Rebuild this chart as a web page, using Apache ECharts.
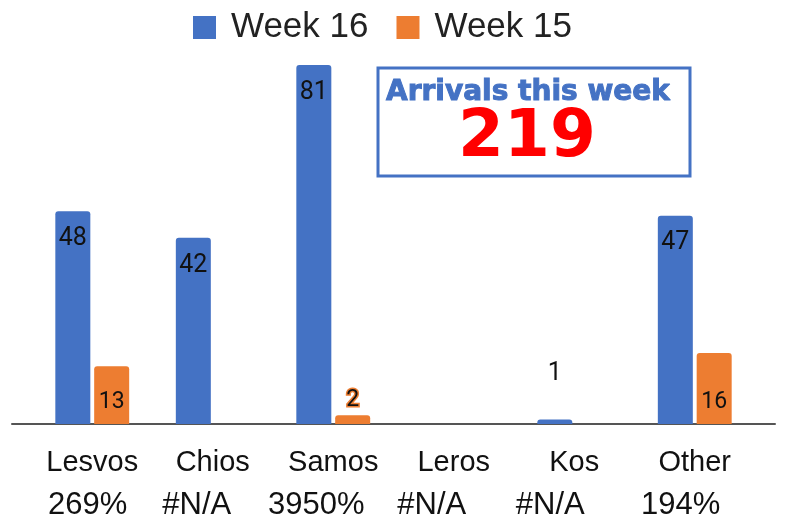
<!DOCTYPE html>
<html>
<head>
<meta charset="utf-8">
<script src="https://cdn.jsdelivr.net/npm/echarts@6/dist/echarts.min.js"></script>
<style>
  html, body { margin: 0; padding: 0; background: #fff; }
  #chart { width: 795px; height: 515px; }
</style>
</head>
<body>
<div id="chart"></div>
<script>
const categories = ["Lesvos", "Chios", "Samos", "Leros", "Kos", "Other"];
const changeLabels = ["269%", "#N/A", "3950%", "#N/A", "#N/A", "194%"];
const week16 = [48, 42, 81, 0, 1, 47];
const week15 = [13, 0, 2, 0, 0, 16];
const totalArrivals = 219;

// the second label line sits a little left of the name in the original
const changeShift = [9, 32, 34, 44, 48, 28];

const blue = "#4472C4";
const orange = "#ED7D31";

const rich = { n: { fontSize: 29, lineHeight: 43, color: "#111", fontFamily: "Liberation Sans" } };
changeShift.forEach(function(s, i) {
  rich["p" + i] = {
    fontSize: 31, lineHeight: 43, color: "#111", fontFamily: "Liberation Sans",
    padding: [0, s, 0, 0],
  };
});

function barItems(values, color) {
  return values.map(function(v) {
    if (v > 0 && v < 5) {
      return {
        value: v,
        label: {
          position: "top",
          distance: color === blue ? 33 : 3,
          textBorderColor: color === blue ? "#fff" : orange,
          textBorderWidth: 3,
        },
      };
    }
    return v;
  });
}

const chart = echarts.init(document.getElementById("chart"));

chart.setOption({
  animation: false,
  legend: {
    left: 188,
    top: 5,
    itemWidth: 23,
    itemHeight: 23,
    itemGap: 28,
    icon: "rect",
    textStyle: {
      fontSize: 35,
      color: "#222",
      fontFamily: "Liberation Sans",
      padding: [0, 0, 0, 10],
    },
    data: ["Week 16", "Week 15"],
  },
  grid: [
    { left: 32, right: 40, top: 25, bottom: 91, outerBoundsMode: "none", containLabel: false },
    { left: 12, right: 20, top: 25, bottom: 91, outerBoundsMode: "none", containLabel: false },
  ],
  xAxis: [
    {
      type: "category",
      gridIndex: 0,
      data: categories,
      axisLine: { show: false },
      axisTick: { show: false },
      axisLabel: {
        interval: 0,
        margin: 17,
        formatter: function(val, idx) {
          return "{n|" + val + "}\n{p" + idx + "|" + changeLabels[idx] + "}";
        },
        rich: rich,
      },
    },
    {
      type: "value",
      gridIndex: 1,
      min: 0,
      max: 1,
      axisLine: { show: true, lineStyle: { color: "#555", width: 2 } },
      axisTick: { show: false },
      axisLabel: { show: false },
      splitLine: { show: false },
    },
  ],
  yAxis: [
    { type: "value", gridIndex: 0, min: 0, max: 90, show: false },
    { type: "value", gridIndex: 1, min: 0, max: 1, show: false },
  ],
  graphic: [
    {
      type: "rect",
      shape: { x: 378, y: 68, width: 312, height: 108 },
      style: { fill: "#fff", stroke: blue, lineWidth: 3 },
      z: 10,
    },
    {
      type: "text",
      x: 528,
      y: 93,
      z: 11,
      style: {
        text: "Arrivals this week",
        fill: blue,
        font: "900 28px 'DejaVu Sans'",
        textAlign: "center",
        textVerticalAlign: "middle",
        stroke: blue,
        lineWidth: 1,
      },
    },
    {
      type: "text",
      x: 527,
      y: 139,
      z: 11,
      style: {
        text: String(totalArrivals),
        fill: "#FF0000",
        font: "bold 66px 'DejaVu Sans'",
        textAlign: "center",
        textVerticalAlign: "middle",
      },
    },
  ],
  series: [
    {
      name: "Week 16",
      type: "bar",
      xAxisIndex: 0,
      yAxisIndex: 0,
      barWidth: 35,
      barGap: "11%",
      itemStyle: { color: blue, borderRadius: [3, 3, 0, 0] },
      label: {
        show: true,
        position: "insideTop",
        distance: 15,
        fontSize: 25,
        fontFamily: "Roboto",
        color: "#111",
        formatter: function(p) { return p.value > 0 ? p.value : ""; },
      },
      data: barItems(week16, blue),
      z: 3,
    },
    {
      name: "Week 15",
      type: "bar",
      xAxisIndex: 0,
      yAxisIndex: 0,
      barWidth: 35,
      itemStyle: { color: orange, borderRadius: [3, 3, 0, 0] },
      label: {
        show: true,
        position: "insideBottom",
        distance: 10,
        fontSize: 23,
        fontFamily: "Roboto",
        color: "#111",
        formatter: function(p) { return p.value > 0 ? p.value : ""; },
      },
      data: barItems(week15, orange),
      z: 3,
    },
  ],
});
</script>
</body>
</html>
